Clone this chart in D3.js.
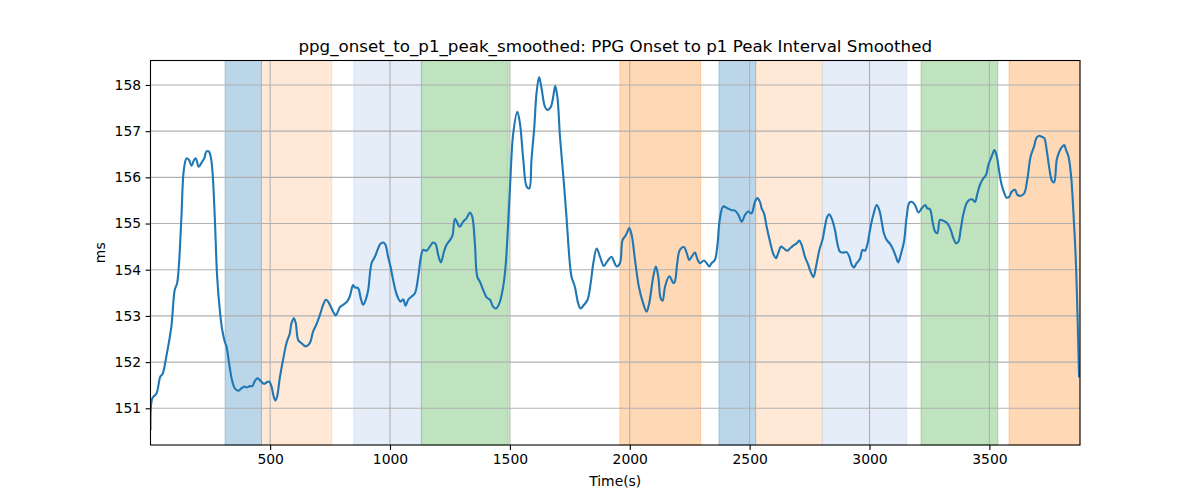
<!DOCTYPE html>
<html>
<head>
<meta charset="utf-8">
<script src="https://cdn.jsdelivr.net/npm/d3@7"></script>
<style>
  html, body { margin: 0; padding: 0; background: #fff; }
  svg { display: block; font-family: "DejaVu Sans", sans-serif; }
</style>
</head>
<body>
<svg id="chart" width="1200" height="500"></svg>
<script>
// ---- data ----
const times = [1, 9, 26, 42, 51, 68, 88, 102, 112, 120, 130, 140, 151, 161, 172, 183, 190, 202, 214, 225, 234, 244, 252, 259, 269, 279, 290, 300, 311, 318, 329, 341, 353, 367, 380, 394, 401, 415, 426, 436, 447, 457, 474, 485, 496, 506, 515, 522, 529, 540, 554, 568, 582, 589, 599, 607, 617, 631, 647, 659, 668, 679, 689, 700, 710, 721, 732, 739, 749, 763, 774, 784, 791, 807, 821, 832, 846, 853, 867, 878, 888, 899, 909, 923, 937, 948, 960, 972, 981, 992, 1002, 1013, 1024, 1034, 1044, 1055, 1065, 1076, 1090, 1104, 1118, 1129, 1138, 1152, 1166, 1180, 1190, 1201, 1212, 1225, 1236, 1250, 1261, 1271, 1291, 1305, 1319, 1333, 1343, 1354, 1364, 1375, 1389, 1403, 1417, 1430, 1442, 1456, 1472, 1482, 1490, 1500, 1514, 1531, 1542, 1556, 1570, 1581, 1590, 1602, 1611, 1622, 1632, 1646, 1656, 1671, 1681, 1689, 1698, 1709, 1723, 1736, 1750, 1757, 1771, 1785, 1795, 1806, 1824, 1837, 1848, 1862, 1876, 1892, 1906, 1924, 1934, 1945, 1959, 1970, 1984, 1998, 2008, 2022, 2038, 2056, 2070, 2081, 2098, 2109, 2119, 2129, 2137, 2147, 2165, 2182, 2188, 2198, 2209, 2226, 2237, 2248, 2258, 2272, 2282, 2293, 2309, 2321, 2332, 2341, 2355, 2365, 2376, 2390, 2407, 2425, 2439, 2453, 2467, 2481, 2494, 2508, 2522, 2532, 2543, 2550, 2560, 2571, 2585, 2599, 2610, 2620, 2631, 2643, 2657, 2668, 2682, 2696, 2707, 2717, 2731, 2745, 2754, 2766, 2777, 2791, 2805, 2814, 2824, 2832, 2842, 2856, 2866, 2877, 2891, 2905, 2916, 2926, 2935, 2946, 2960, 2971, 2981, 2992, 3002, 3016, 3030, 3041, 3051, 3060, 3072, 3086, 3099, 3111, 3120, 3130, 3144, 3155, 3166, 3176, 3190, 3204, 3218, 3232, 3241, 3252, 3264, 3273, 3283, 3294, 3308, 3322, 3336, 3350, 3361, 3371, 3380, 3391, 3405, 3419, 3430, 3440, 3450, 3461, 3475, 3486, 3496, 3510, 3521, 3531, 3542, 3551, 3563, 3572, 3583, 3593, 3607, 3617, 3631, 3645, 3659, 3672, 3686, 3697, 3709, 3718, 3729, 3739, 3750, 3760, 3770, 3781, 3792, 3803, 3812, 3820, 3830, 3841, 3850, 3860, 3867, 3874];
const values = [150.55, 151.22, 151.32, 151.69, 151.74, 152.15, 152.77, 153.56, 153.71, 154.14, 155.15, 156.16, 156.41, 156.38, 156.25, 156.38, 156.41, 156.23, 156.32, 156.41, 156.56, 156.56, 156.45, 156.16, 155.15, 153.85, 153.13, 152.70, 152.44, 152.34, 151.97, 151.61, 151.43, 151.38, 151.43, 151.47, 151.45, 151.48, 151.48, 151.59, 151.65, 151.61, 151.53, 151.56, 151.58, 151.47, 151.25, 151.17, 151.25, 151.65, 152.05, 152.41, 152.62, 152.84, 152.95, 152.84, 152.48, 152.41, 152.34, 152.37, 152.44, 152.66, 152.77, 152.91, 153.06, 153.24, 153.35, 153.33, 153.24, 153.09, 153.01, 153.11, 153.19, 153.25, 153.31, 153.42, 153.67, 153.62, 153.60, 153.38, 153.24, 153.35, 153.56, 154.14, 154.28, 154.43, 154.56, 154.59, 154.54, 154.28, 154.07, 153.78, 153.53, 153.38, 153.31, 153.36, 153.22, 153.35, 153.42, 153.49, 153.86, 154.28, 154.43, 154.41, 154.50, 154.59, 154.56, 154.32, 154.16, 154.39, 154.54, 154.64, 154.75, 155.10, 154.93, 155.04, 155.11, 155.24, 155.15, 154.57, 153.85, 153.74, 153.56, 153.40, 153.35, 153.20, 153.16, 153.27, 153.63, 154.07, 154.72, 155.73, 156.95, 157.42, 157.17, 156.38, 155.80, 155.76, 156.38, 157.10, 157.82, 158.17, 157.93, 157.53, 157.46, 157.53, 157.75, 157.98, 157.75, 156.88, 156.02, 155.15, 154.14, 153.85, 153.63, 153.27, 153.16, 153.22, 153.35, 153.71, 154.14, 154.46, 154.28, 154.08, 154.18, 154.28, 154.18, 154.07, 154.14, 154.64, 154.75, 154.90, 154.75, 154.21, 153.63, 153.27, 153.09, 153.27, 153.85, 154.07, 153.85, 153.38, 153.33, 153.63, 153.86, 153.71, 153.74, 154.14, 154.43, 154.49, 154.37, 154.21, 154.28, 154.37, 154.23, 154.14, 154.20, 154.14, 154.07, 154.14, 154.21, 154.50, 155.11, 155.37, 155.33, 155.29, 155.28, 155.19, 155.04, 155.19, 155.26, 155.22, 155.47, 155.55, 155.47, 155.33, 155.22, 154.93, 154.61, 154.34, 154.25, 154.37, 154.50, 154.46, 154.41, 154.46, 154.52, 154.57, 154.63, 154.54, 154.28, 154.10, 153.96, 153.84, 154.07, 154.43, 154.67, 154.93, 155.15, 155.20, 155.11, 154.86, 154.57, 154.39, 154.37, 154.38, 154.28, 154.10, 154.05, 154.14, 154.23, 154.43, 154.41, 154.57, 154.86, 155.19, 155.40, 155.29, 155.04, 154.79, 154.64, 154.56, 154.43, 154.27, 154.16, 154.32, 154.61, 155.15, 155.45, 155.47, 155.40, 155.24, 155.33, 155.40, 155.33, 155.31, 155.01, 154.83, 154.79, 155.08, 155.06, 155.02, 154.90, 154.68, 154.57, 154.61, 154.86, 155.19, 155.44, 155.52, 155.52, 155.47, 155.65, 155.84, 155.98, 156.05, 156.27, 156.46, 156.59, 156.45, 156.09, 155.84, 155.65, 155.56, 155.58, 155.69, 155.73, 155.62, 155.60, 155.65, 155.98, 156.45, 156.66, 156.86, 156.90, 156.88, 156.85, 156.59, 156.20, 155.94, 155.89, 156.38, 156.56, 156.66, 156.70, 156.59, 156.45, 156.02, 155.29, 154.28, 153.13, 151.69];

const bandStarts = [312, 464, 849, 1131, 1959, 2372, 2525, 2803, 3215, 3582];
const bandEnds   = [464, 757, 1131, 1493, 2296, 2525, 2803, 3155, 3535, 3878];
const bandKinds  = ["blue", "peach", "lavender", "green", "orange", "blue", "peach", "lavender", "green", "orange"];

const xTicks = [500, 1000, 1500, 2000, 2500, 3000, 3500];
const yTicks = [151, 152, 153, 154, 155, 156, 157, 158];

const titleText = "ppg_onset_to_p1_peak_smoothed: PPG Onset to p1 Peak Interval Smoothed";
const xLabel = "Time(s)";
const yLabel = "ms";

// ---- styles ----
const bandStyle = {
  blue:     { color: "#1f77b4", alpha: 0.3 },
  peach:    { color: "#ff7f0e", alpha: 0.17 },
  lavender: { color: "#aec7e8", alpha: 0.32 },
  green:    { color: "#2ca02c", alpha: 0.3 },
  orange:   { color: "#ff7f0e", alpha: 0.3 }
};

const margin = { left: 150.5, right: 1080, top: 60.5, bottom: 445 };
const svg = d3.select("#chart");

const x = d3.scaleLinear().domain([1, 3878]).range([margin.left, margin.right]);
const y = d3.scaleLinear().domain([150.205, 158.53]).range([margin.bottom, margin.top]);

// bands
const bands = bandStarts.map((s, i) => ({ s, e: bandEnds[i], k: bandKinds[i] }));
svg.append("g").selectAll("rect").data(bands).join("rect")
  .attr("x", d => x(d.s))
  .attr("y", margin.top)
  .attr("width", d => x(d.e) - x(d.s))
  .attr("height", margin.bottom - margin.top)
  .attr("fill", d => bandStyle[d.k].color)
  .attr("fill-opacity", d => bandStyle[d.k].alpha)
  .attr("stroke", d => bandStyle[d.k].color)
  .attr("stroke-opacity", d => bandStyle[d.k].alpha)
  .attr("stroke-width", 1);

// grid
const grid = svg.append("g").attr("stroke", "#b0b0b0").attr("stroke-width", 1.1);
grid.selectAll("line.vx").data(xTicks).join("line")
  .attr("x1", d => x(d)).attr("x2", d => x(d))
  .attr("y1", margin.top).attr("y2", margin.bottom);
grid.selectAll("line.hy").data(yTicks).join("line")
  .attr("y1", d => y(d)).attr("y2", d => y(d))
  .attr("x1", margin.left).attr("x2", margin.right);

// line
const pts = times.map((t, i) => [t, values[i]]);
svg.append("defs").append("clipPath").attr("id", "clip")
  .append("rect").attr("x", margin.left).attr("y", margin.top)
  .attr("width", margin.right - margin.left).attr("height", margin.bottom - margin.top);
svg.append("path")
  .attr("clip-path", "url(#clip)")
  .attr("d", d3.line().x(d => x(d[0])).y(d => y(d[1])).curve(d3.curveCatmullRom.alpha(0.5))(pts))
  .attr("fill", "none")
  .attr("stroke", "#1f77b4")
  .attr("stroke-width", 2.1)
  .attr("stroke-linejoin", "round")
  .attr("stroke-linecap", "square");

// axes
const xAxis = d3.axisBottom(x).tickValues(xTicks).tickSize(4.9).tickPadding(4.5).tickFormat(d3.format("d"));
const yAxis = d3.axisLeft(y).tickValues(yTicks).tickSize(4.9).tickPadding(4.5).tickFormat(d3.format("d"));

const gx = svg.append("g").attr("transform", `translate(0,${margin.bottom})`).call(xAxis);
const gy = svg.append("g").attr("transform", `translate(${margin.left},0)`).call(yAxis);
[gx, gy].forEach(g => {
  g.select(".domain").remove();
  g.selectAll(".tick line").attr("stroke", "#000").attr("stroke-width", 1.1);
  g.selectAll(".tick text").attr("fill", "#000")
    .style("font-family", "DejaVu Sans, sans-serif").style("font-size", "13.9px");
});

// spines
svg.append("rect")
  .attr("x", margin.left).attr("y", margin.top)
  .attr("width", margin.right - margin.left).attr("height", margin.bottom - margin.top)
  .attr("fill", "none").attr("stroke", "#000").attr("stroke-width", 1.1);

// labels
svg.append("text")
  .attr("x", (margin.left + margin.right) / 2).attr("y", 52)
  .attr("text-anchor", "middle")
  .style("font-size", "16.7px")
  .text(titleText);

svg.append("text")
  .attr("x", (margin.left + margin.right) / 2).attr("y", 486)
  .attr("text-anchor", "middle")
  .style("font-size", "13.9px")
  .text(xLabel);

svg.append("text")
  .attr("transform", `translate(105,${(margin.top + margin.bottom) / 2}) rotate(-90)`)
  .attr("text-anchor", "middle")
  .style("font-size", "13.9px")
  .text(yLabel);
</script>
</body>
</html>
